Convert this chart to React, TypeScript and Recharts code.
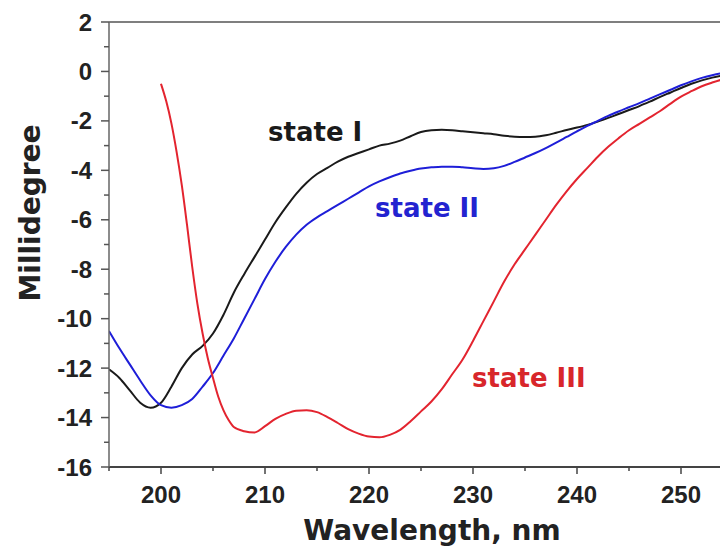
import { LineChart, Line, XAxis, YAxis, ReferenceLine } from 'recharts'

// wavelength grid shared by state I and state II (nm)
const wavelengths = [
  195, 196, 197, 198, 199, 200, 201, 202, 203, 204, 205, 206, 207, 208, 209, 210,
  211, 212, 213, 214, 215, 216, 217, 218, 219, 220, 221, 222, 223, 224, 225, 226,
  227, 228, 229, 230, 231, 232, 233, 234, 235, 236, 237, 238, 239, 240, 241, 242,
  243, 244, 245, 246, 247, 248, 249, 250, 251, 252, 253, 254, 255,
]

const stateI = [
  -12.05, -12.4, -12.9, -13.4, -13.6, -13.4, -12.75, -12.0, -11.45, -11.1, -10.6, -9.85,
  -8.95, -8.2, -7.5, -6.8, -6.1, -5.5, -4.95, -4.5, -4.15, -3.9, -3.65, -3.45, -3.3,
  -3.15, -3.0, -2.92, -2.8, -2.62, -2.45, -2.38, -2.36, -2.38, -2.42, -2.46, -2.5, -2.54,
  -2.6, -2.64, -2.65, -2.64, -2.58, -2.48, -2.37, -2.27, -2.16, -2.03, -1.88, -1.72,
  -1.56, -1.4, -1.22, -1.03, -0.85, -0.67, -0.5, -0.36, -0.25, -0.16, -0.1,
]

const stateII = [
  -10.5, -11.2, -11.85, -12.5, -13.1, -13.5, -13.6, -13.5, -13.25, -12.75, -12.2, -11.5,
  -10.8, -10.0, -9.2, -8.4, -7.7, -7.1, -6.6, -6.2, -5.9, -5.65, -5.4, -5.15, -4.9,
  -4.65, -4.45, -4.28, -4.13, -4.02, -3.93, -3.88, -3.85, -3.85, -3.88, -3.92, -3.95,
  -3.92, -3.82, -3.66, -3.48, -3.3, -3.1, -2.88, -2.65, -2.42, -2.2, -2.0, -1.8, -1.62,
  -1.45, -1.28, -1.1, -0.92, -0.74, -0.56, -0.4, -0.26, -0.15, -0.07, -0.02,
]

// state III starts at 200 nm, finer steps on the steep drop
const wavelengthsIII = [
  200, 200.5, 201, 201.5, 202, 202.5, 203, 203.5, 204, 204.5, 205, 205.5, 206, 206.5,
  207, 208, 209, 210, 211, 212, 213, 214, 215, 216, 217, 218, 219, 220, 221, 222, 223,
  224, 225, 226, 227, 228, 229, 230, 231, 232, 233, 234, 235, 236, 237, 238, 239, 240,
  241, 242, 243, 244, 245, 246, 247, 248, 249, 250, 251, 252, 253, 254, 255,
]

const stateIII = [
  -0.5, -1.2, -2.1, -3.25, -4.6, -6.2, -7.9, -9.4, -10.6, -11.6, -12.4, -13.15, -13.7,
  -14.1, -14.38, -14.55, -14.6, -14.35, -14.05, -13.85, -13.72, -13.7, -13.78, -13.98,
  -14.22, -14.47, -14.65, -14.77, -14.8, -14.7, -14.5, -14.15, -13.75, -13.35, -12.85,
  -12.25, -11.65, -10.9, -10.1, -9.3, -8.5, -7.8, -7.2, -6.6, -6.0, -5.4, -4.85, -4.35,
  -3.9, -3.45, -3.05, -2.7, -2.38, -2.12, -1.86, -1.6, -1.3, -1.02, -0.8, -0.6, -0.45,
  -0.32, -0.22,
]

const xTicks = [195, 200, 205, 210, 215, 220, 225, 230, 235, 240, 245, 250, 255]
const yTicks = [-16, -15, -14, -13, -12, -11, -10, -9, -8, -7, -6, -5, -4, -3, -2, -1, 0, 1, 2]

const toPoints = (xs: number[], ys: number[]) => xs.map((wl, i) => ({ wl, v: ys[i] }))

const dataI = toPoints(wavelengths, stateI)
const dataII = toPoints(wavelengths, stateII)
const dataIII = toPoints(wavelengthsIII, stateIII)

const tickFont = '"Liberation Sans", Arial, sans-serif'
const labelFont = '"DejaVu Sans", Verdana, sans-serif'

function YTick({ x, y, payload }: any) {
  const major = payload.value % 2 === 0
  return (
    <g>
      <line x1={x - (major ? 8 : 5)} x2={x} y1={y} y2={y} stroke="#555" strokeWidth={1.5} />
      {major && (
        <text x={x - 17} y={y + 8.5} textAnchor="end" fontSize={24} fontWeight="bold" fill="#222" fontFamily={tickFont}>
          {payload.value}
        </text>
      )}
    </g>
  )
}

function XTick({ x, y, payload }: any) {
  const major = payload.value % 10 === 0
  return (
    <g>
      <line x1={x} x2={x} y1={y} y2={y + (major ? 7 : 4)} stroke="#444" strokeWidth={1.5} />
      {major && (
        <text x={x} y={y + 36} textAnchor="middle" fontSize={24} fontWeight="bold" fill="#222" fontFamily={tickFont}>
          {payload.value}
        </text>
      )}
    </g>
  )
}

export default function App() {
  // body keeps its 8px margin; the inner layer is pulled back so the plot sits at page coordinates
  return (
    <div style={{ position: 'relative', width: 720, height: 542, overflow: 'hidden' }}>
      <div style={{ position: 'absolute', left: -8, top: -8, width: 728, height: 550, overflow: 'hidden', background: '#fff' }}>
        <LineChart width={740} height={550} margin={{ top: 22, right: 7, bottom: 0, left: 0 }}>
          <XAxis
            type="number"
            dataKey="wl"
            domain={[195, 255]}
            ticks={xTicks}
            interval={0}
            height={83}
            tick={<XTick />}
            tickLine={false}
            tickSize={0}
            tickMargin={0}
            axisLine={{ stroke: '#444', strokeWidth: 2 }}
            allowDataOverflow
          />
          <YAxis
            type="number"
            domain={[-16, 2]}
            ticks={yTicks}
            interval={0}
            width={109}
            tick={<YTick />}
            tickLine={false}
            tickSize={0}
            tickMargin={0}
            axisLine={{ stroke: '#666', strokeWidth: 1.5 }}
            allowDataOverflow
          />
          <ReferenceLine y={2} stroke="#555" strokeWidth={1.5} />
          <Line data={dataI} dataKey="v" type="monotone" stroke="#1a1a1a" strokeWidth={2} dot={false} isAnimationActive={false} />
          <Line data={dataII} dataKey="v" type="monotone" stroke="#1e1ed8" strokeWidth={2} dot={false} isAnimationActive={false} />
          <Line data={dataIII} dataKey="v" type="monotone" stroke="#e3242f" strokeWidth={2} dot={false} isAnimationActive={false} />
        </LineChart>
        <svg width={728} height={550} style={{ position: 'absolute', left: 0, top: 0, pointerEvents: 'none' }}>
          <text transform="translate(40,213) rotate(-90)" textAnchor="middle" fontSize={28} fontWeight="bold" fill="#222" fontFamily={labelFont}>
            Millidegree
          </text>
          <text x={432} y={540} textAnchor="middle" fontSize={28} fontWeight="bold" fill="#222" fontFamily={labelFont}>
            Wavelength, nm
          </text>
          <text x={268} y={141} fontSize={26} fontWeight="bold" fill="#1a1a1a" fontFamily={labelFont}>
            state I
          </text>
          <text x={375} y={217} fontSize={26} fontWeight="bold" fill="#2323d0" fontFamily={labelFont}>
            state II
          </text>
          <text x={472} y={387} fontSize={26} fontWeight="bold" fill="#d8262b" fontFamily={labelFont}>
            state III
          </text>
        </svg>
      </div>
    </div>
  )
}
